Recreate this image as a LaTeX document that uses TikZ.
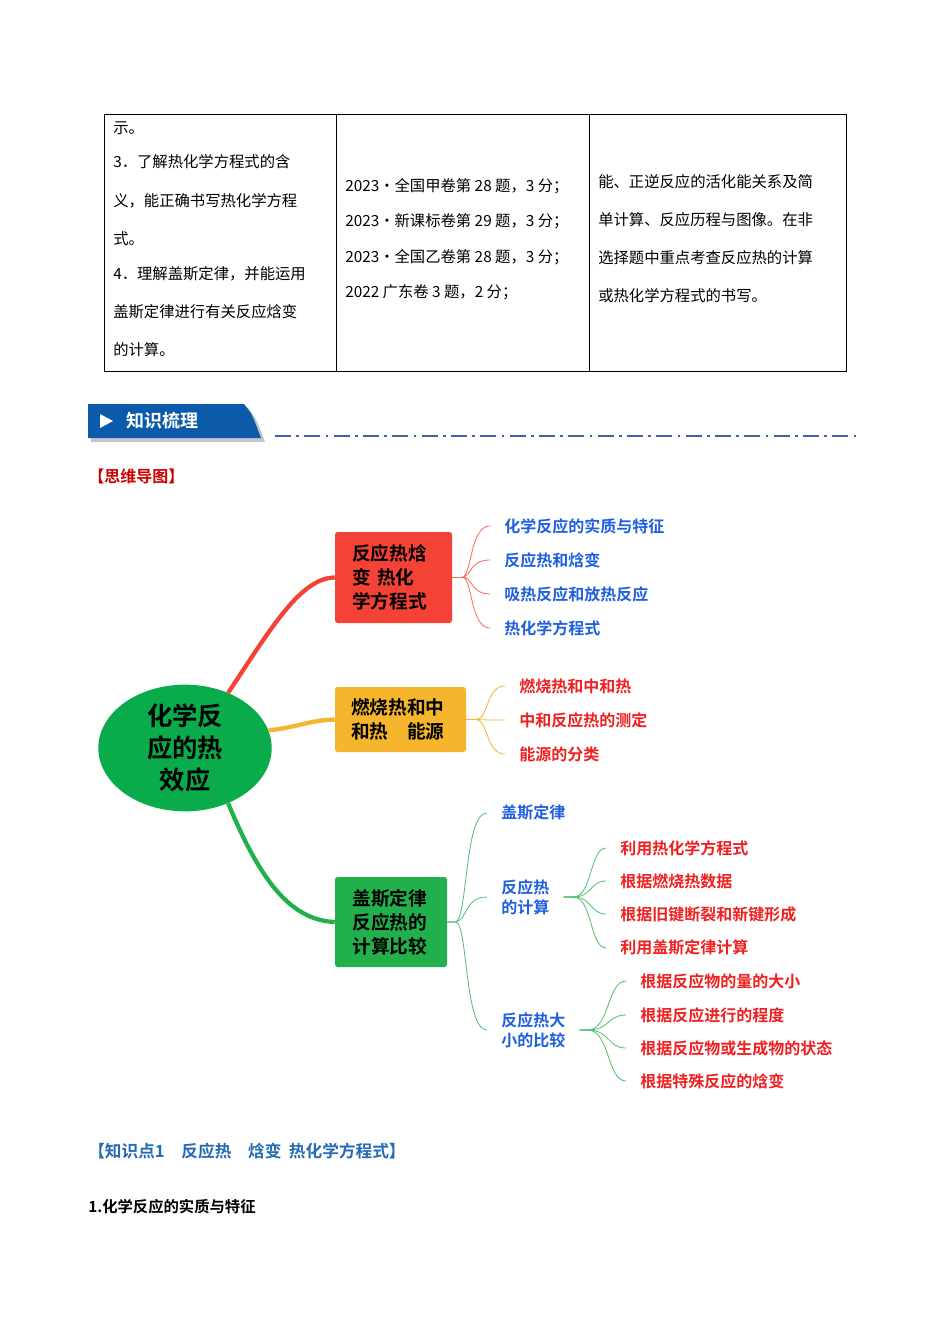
\documentclass[tikz,border=0pt]{standalone}
\usepackage{fontspec}
\usetikzlibrary{shapes.geometric}
\setmainfont{Noto Sans CJK SC}
\newfontfamily\bcn{Noto Sans CJK SC Bold}
\definecolor{lblue}{HTML}{1F5FE0}
\definecolor{lred}{HTML}{F02020}
\definecolor{bred}{HTML}{F44336}
\definecolor{borange}{HTML}{F5B52C}
\definecolor{bgreen}{HTML}{22B04C}
\definecolor{cgreen}{HTML}{0AAB4A}
\definecolor{banner}{HTML}{0B5BAA}
\definecolor{dashc}{HTML}{3F5FA8}
\begin{document}
\begin{tikzpicture}[x=0.75pt,y=-0.75pt,
  tt/.style={anchor=west,inner sep=0pt,font=\fontsize{11.5}{14}\selectfont},
  box/.style={rounded corners=2pt,align=left,font=\bcn\fontsize{14}{18}\selectfont,inner sep=0pt},
  lb/.style={anchor=west,inner ysep=0pt,inner xsep=10.5pt,font=\bcn\fontsize{12}{15}\selectfont,align=left},
  fanr/.style={draw=bred!80,line width=0.6pt},
  fano/.style={draw=borange,line width=0.6pt},
  fang/.style={draw=bgreen!80,line width=0.6pt}]
\fill[white] (0,0) rectangle (950,1344);
% table
\draw[line width=0.6pt] (104,114) rectangle (846,371);
\draw[line width=0.6pt] (336,114) -- (336,371) (589,114) -- (589,371);
\node[tt] (t1) at (113,128) {示。};
\node[tt] (t2) at (113,162) {3．了解热化学方程式的含};
\node[tt] (t3) at (113,201) {义，能正确书写热化学方程};
\node[tt] (t4) at (113,239) {式。};
\node[tt] (t5) at (113,274) {4．理解盖斯定律，并能运用};
\node[tt] (t6) at (113,312) {盖斯定律进行有关反应焓变};
\node[tt] (t7) at (113,350) {的计算。};
\node[tt] (u1) at (345,186) {2023·全国甲卷第 28 题，3 分；};
\node[tt] (u2) at (345,221) {2023·新课标卷第 29 题，3 分；};
\node[tt] (u3) at (345,257) {2023·全国乙卷第 28 题，3 分；};
\node[tt] (u4) at (345,292) {2022 广东卷 3 题，2 分；};
\node[tt] (v1) at (598,182) {能、正逆反应的活化能关系及简};
\node[tt] (v2) at (598,220) {单计算、反应历程与图像。在非};
\node[tt] (v3) at (598,258) {选择题中重点考查反应热的计算};
\node[tt] (v4) at (598,296) {或热化学方程式的书写。};
% banner
\fill[gray!45] (91,408) -- (248,408) .. controls (256,418) .. (265,442) -- (91,442) -- cycle;
\fill[banner] (88,404) -- (244,404) .. controls (252,414) .. (261,438) -- (88,438) -- cycle;
\fill[white] (100,414) -- (100,428) -- (113,421) -- cycle;
\node[anchor=west,text=white,font=\bcn\fontsize{13.5}{16}\selectfont,inner sep=0pt] (bt) at (126,421) {知识梳理};
\draw[dashc,line width=2.2pt,dash pattern=on 12pt off 4pt on 2pt off 4pt] (275,436) -- (860,436);
\node[anchor=west,inner sep=0pt,text=red!80!black,font=\bcn\fontsize{12}{15}\selectfont] (sw) at (88,476) {【思维导图】};
% central
\node[ellipse,fill=cgreen,minimum width=130pt,minimum height=95pt,align=center,inner sep=0pt,font=\bcn\fontsize{19}{24}\selectfont] (c) at (185,748) {化学反\\应的热\\效应};
\node[box,fill=bred,minimum width=87.75pt,minimum height=68.25pt,text width=62pt] (A) at (393.5,577.5) {反应热焓\\变 热化\\学方程式};
\node[box,fill=borange,minimum width=98.25pt,minimum height=48.75pt,text width=74pt] (B) at (400.5,719.5) {燃烧热和中\\和热\quad 能源};
\node[box,fill=bgreen,minimum width=84pt,minimum height=67.5pt,text width=58pt] (C) at (391,922) {盖斯定律\\反应热的\\计算比较};
\draw[bred,line width=3.2pt] (c.52) .. controls (270,630) and (300,578) .. (A.west);
\draw[borange,line width=3.2pt] (c.12) .. controls (295,728) and (310,720) .. (B.west);
\draw[bgreen,line width=3.2pt] (c.-52) .. controls (260,880) and (290,920) .. (C.west);
% red fan
\foreach \y/\t [count=\i] in {526/化学反应的实质与特征,560/反应热和焓变,594/吸热反应和放热反应,628/热化学方程式}{
  \node[lb,text=lblue] (a\i) at (490,\y) {\t};
  \draw[fanr] (A.east) -- ++(10,0) .. controls (472,575) and (470,\y) .. (a\i.west);
}
% orange fan
\foreach \y/\t [count=\i] in {686/燃烧热和中和热,720/中和反应热的测定,754/能源的分类}{
  \node[lb,text=lred] (b\i) at (505,\y) {\t};
  \draw[fano] (B.east) -- ++(10,0) .. controls (488,720) and (486,\y) .. (b\i.west);
}
% green fan
\node[lb,text=lblue] (g1) at (487,813) {盖斯定律};
\node[lb,text=lblue] (g2) at (487,897) {反应热\\的计算};
\node[lb,text=lblue] (g3) at (487,1030) {反应热大\\小的比较};
\foreach \i/\y in {1/813,2/897,3/1030}{
  \draw[fang] (C.east) -- ++(8,0) .. controls (468,920) and (464,\y) .. (g\i.west);
}
\foreach \y/\t [count=\i] in {848/利用热化学方程式,881/根据燃烧热数据,914/根据旧键断裂和新键形成,948/利用盖斯定律计算}{
  \node[lb,text=lred] (h\i) at (606,\y) {\t};
  \draw[fang] (g2.east) -- ++(10,0) .. controls (592,897) and (590,\y) .. (h\i.west);
}
\foreach \y/\t [count=\i] in {981/根据反应物的量的大小,1015/根据反应进行的程度,1048/根据反应物或生成物的状态,1081/根据特殊反应的焓变}{
  \node[lb,text=lred] (k\i) at (626,\y) {\t};
  \draw[fang] (g3.east) -- ++(8,0) .. controls (610,1030) and (607,\y) .. (k\i.west);
}
\node[anchor=west,inner sep=0pt,text=banner!90,font=\bcn\fontsize{12.5}{15}\selectfont] (kp) at (88,1151) {【知识点1\quad 反应热\quad 焓变\ \ 热化学方程式】};
\node[anchor=west,inner sep=0pt,font=\bcn\fontsize{11.5}{14}\selectfont] (s1) at (88,1207) {1.化学反应的实质与特征};
\end{tikzpicture}
\end{document}
